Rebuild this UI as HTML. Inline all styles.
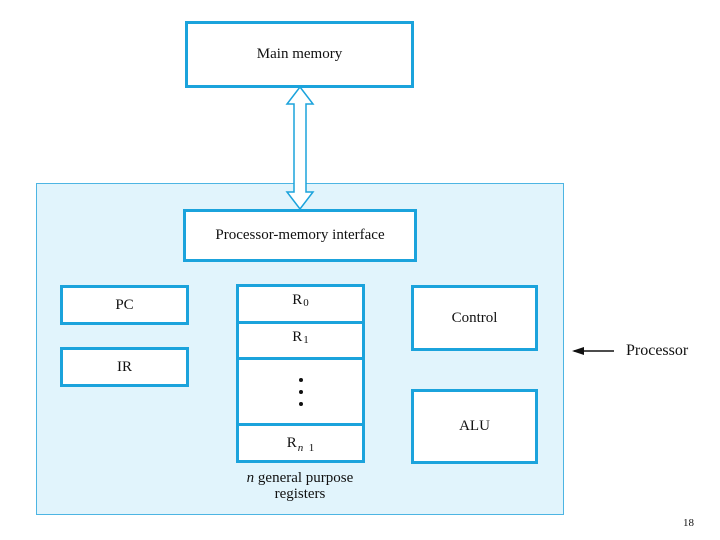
<!DOCTYPE html>
<html><head><style>
body{margin:0;width:720px;height:540px;background:#fff;position:relative;font-family:"Liberation Serif",serif;color:#111;overflow:hidden}
.b{position:absolute;box-sizing:border-box;border:3.5px solid #1ba3dc;background:#fff;display:flex;align-items:center;justify-content:center;font-size:15px}
.s{font-size:11px;position:relative;top:5px;margin-left:1px}
.d{width:4px;height:4px;border-radius:50%;background:#111;margin:4px 0}
</style></head><body>
<div style="position:absolute;left:36px;top:183px;width:528px;height:332px;box-sizing:border-box;border:1.5px solid #4db5e3;background:#e1f4fc"></div>
<div class="b" style="left:185px;top:21px;width:229px;height:67px">Main memory</div>
<svg style="position:absolute;left:0;top:0" width="720" height="540">
<polygon points="300,87 313,104 306,104 306,192 313,192 300,209 287,192 294,192 294,104 287,104" fill="#fff" stroke="#1ba3dc" stroke-width="1.5"/>
<line x1="574" y1="351" x2="614" y2="351" stroke="#111" stroke-width="1.5"/>
<polygon points="572,351 584,347 584,355" fill="#111"/>
</svg>
<div class="b" style="left:183px;top:209px;width:234px;height:53px">Processor-memory interface</div>
<div class="b" style="left:60px;top:285px;width:129px;height:40px">PC</div>
<div class="b" style="left:60px;top:347px;width:129px;height:40px">IR</div>
<div class="b" style="left:236px;top:284px;width:129px;height:41px;align-items:flex-start;padding-top:5px">R<span class="s">0</span></div>
<div class="b" style="left:236px;top:321px;width:129px;height:40px;align-items:flex-start;padding-top:5px">R<span class="s">1</span></div>
<div class="b" style="left:236px;top:357px;width:129px;height:70px;flex-direction:column"><div class="d"></div><div class="d"></div><div class="d"></div></div>
<div class="b" style="left:236px;top:423px;width:129px;height:40px">R<span class="s"><i>n</i>&nbsp;&nbsp;1</span></div>
<div class="b" style="left:411px;top:285px;width:127px;height:66px">Control</div>
<div class="b" style="left:411px;top:389px;width:127px;height:75px">ALU</div>
<div style="position:absolute;left:230px;top:470px;width:140px;text-align:center;font-size:15px;line-height:16px"><i>n</i> general purpose<br>registers</div>
<div style="position:absolute;left:626px;top:342px;font-size:16px">Processor</div>
<div style="position:absolute;left:683px;top:517px;font-size:11px">18</div>
</body></html>
